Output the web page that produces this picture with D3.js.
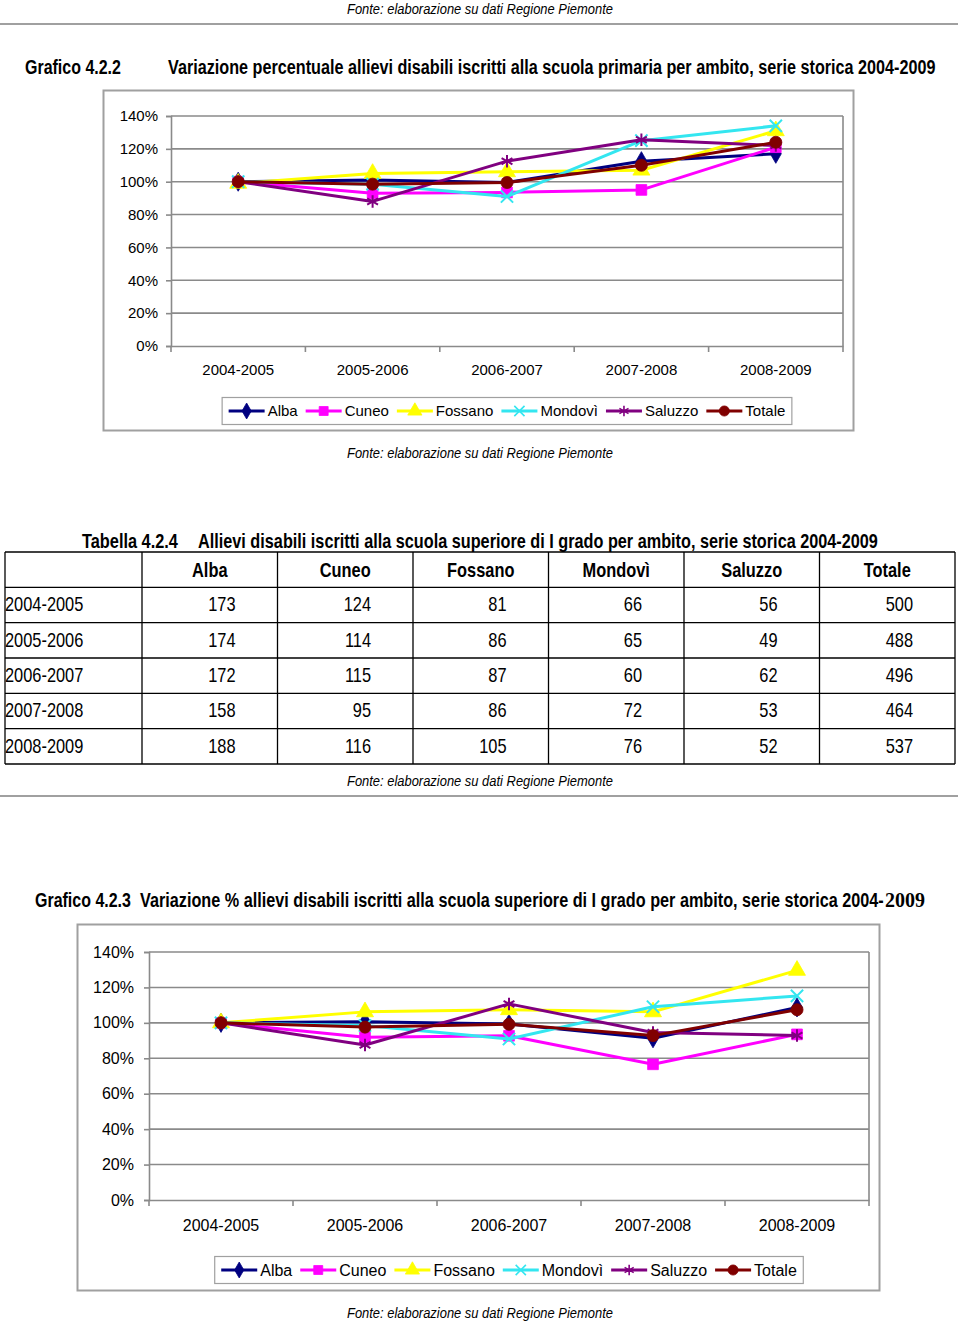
<!DOCTYPE html>
<html><head><meta charset="utf-8">
<script src="https://cdn.jsdelivr.net/npm/d3@7/dist/d3.min.js"></script>
<style>
body{margin:0;background:#fff;}
svg{display:block;}
</style></head>
<body>
<svg id="page" width="960" height="1323"></svg>
<script>
// ---------- DATA ----------
const categories = ["2004-2005","2005-2006","2006-2007","2007-2008","2008-2009"];
const seriesNames = ["Alba","Cuneo","Fossano","Mondovì","Saluzzo","Totale"];
const yTicks = [0,20,40,60,80,100,120,140];

// Grafico 4.2.2 - scuola primaria (% values)
const primAlba    = [100, 101, 99.5, 112.5, 117];
const primCuneo   = [100, 93, 93.5, 95, 121];
const primFossano = [99, 105, 106, 107, 131];
const primMondovi = [100, 98.5, 91, 125, 134];
const primSaluzzo = [100, 88, 112.5, 125.5, 122];
const primTotale  = [100, 98.5, 99.5, 110, 124];

// Tabella 4.2.4
const tableRowLabels = ["2004-2005","2005-2006","2006-2007","2007-2008","2008-2009"];
const tabAlba    = [173, 174, 172, 158, 188];
const tabCuneo   = [124, 114, 115, 95, 116];
const tabFossano = [81, 86, 87, 86, 105];
const tabMondovi = [66, 65, 60, 72, 76];
const tabSaluzzo = [56, 49, 62, 53, 52];
const tabTotale  = [500, 488, 496, 464, 537];

// Grafico 4.2.3 - scuola superiore di I grado (% values)
const secAlba    = [100, 100.6, 99.4, 91.3, 108.7];
const secCuneo   = [100, 91.9, 92.7, 76.6, 93.5];
const secFossano = [100, 106.2, 107.4, 106.2, 129.6];
const secMondovi = [100, 98.5, 90.9, 109.1, 115.2];
const secSaluzzo = [100, 87.5, 110.7, 94.6, 92.9];
const secTotale  = [100, 97.6, 99.2, 92.8, 107.4];

// ---------- STYLE ----------
const colors = ["#000080","#FF00FF","#FFFF00","#33E6F0","#800080","#800000"];
const symbols = [d3.symbolDiamond, d3.symbolSquare, d3.symbolTriangle, d3.symbolX, d3.symbolAsterisk, d3.symbolCircle];
const symSizes = [105, 115, 125, 100, 110, 115];
const strokeSyms = [false,false,false,true,true,false];
const SANS = "'Liberation Sans',Arial,sans-serif";
const SERIF = "'Liberation Serif','Times New Roman',serif";
const GRID = "#8a8a8a";

const svg = d3.select("#page");

// narrow text: Liberation Sans compressed horizontally (fit to a width, or fixed factor)
function ntext(parent, x, y, str, o){
  o = o || {};
  const t = parent.append("text")
    .attr("font-family", o.family || SANS)
    .attr("font-size", o.size || 20)
    .attr("font-weight", o.weight || "normal")
    .attr("font-style", o.style || "normal")
    .attr("text-anchor", o.anchor || "start")
    .attr("fill","#000")
    .text(str);
  const w = t.node().getComputedTextLength();
  const s = o.fit ? o.fit / w : (o.sx || 0.82);
  t.attr("transform", `translate(${x},${y}) scale(${s},1)`);
  return t;
}

function fonte(y){
  ntext(svg, 347, y, "Fonte: elaborazione su dati Regione Piemonte", {size:15, style:"italic", fit:266});
}
function hr(y){
  svg.append("line").attr("x1",0).attr("x2",958).attr("y1",y).attr("y2",y)
    .attr("stroke","#a0a0a0").attr("stroke-width",2);
}

function drawChart(cfg){
  const g = svg.append("g");
  g.append("rect").attr("x",cfg.box[0]+0.5).attr("y",cfg.box[1]+0.5)
    .attr("width",cfg.box[2]-cfg.box[0]).attr("height",cfg.box[3]-cfg.box[1])
    .attr("fill","#fff").attr("stroke","#a0a0a0").attr("stroke-width",2);
  const x = d3.scaleBand().domain(categories).range([cfg.plot[0],cfg.plot[2]]).padding(0);
  const y = d3.scaleLinear().domain([0,140]).range([cfg.plot[3],cfg.plot[1]]);
  const cx = c => x(c) + x.bandwidth()/2;

  g.append("g").selectAll("line").data(yTicks.filter(t=>t>0)).join("line")
    .attr("x1",cfg.plot[0]).attr("x2",cfg.plot[2])
    .attr("y1",d=>y(d)).attr("y2",d=>y(d))
    .attr("stroke",GRID).attr("stroke-width",1.6);
  g.append("line").attr("x1",cfg.plot[2]).attr("x2",cfg.plot[2])
    .attr("y1",cfg.plot[1]).attr("y2",cfg.plot[3]).attr("stroke",GRID).attr("stroke-width",1.6);

  const yAxis = d3.axisLeft(y).tickValues(yTicks).tickFormat(d=>d+"%").tickSize(5).tickPadding(cfg.yPad);
  const ya = g.append("g").attr("transform",`translate(${cfg.plot[0]},0)`).call(yAxis);
  ya.select(".domain").attr("stroke",GRID).attr("stroke-width",1.6);
  ya.selectAll(".tick line").attr("stroke",GRID).attr("stroke-width",1.6);
  ya.selectAll("text").attr("font-family",SANS).attr("font-size",cfg.fs).attr("fill","#000");

  const xAxis = d3.axisBottom(x).tickSize(0).tickPadding(cfg.xPad);
  const xa = g.append("g").attr("transform",`translate(0,${cfg.plot[3]})`).call(xAxis);
  xa.select(".domain").attr("stroke",GRID).attr("stroke-width",1.6);
  xa.selectAll("text").attr("font-family",SANS).attr("font-size",cfg.fs).attr("fill","#000");
  const bounds = categories.map(c=>x(c)).concat([cfg.plot[2]]);
  g.append("g").selectAll("line").data(bounds).join("line")
    .attr("x1",d=>d).attr("x2",d=>d).attr("y1",cfg.plot[3]).attr("y2",cfg.plot[3]+6)
    .attr("stroke",GRID).attr("stroke-width",1.6);

  const line = d3.line().x((d,i)=>cx(categories[i])).y(d=>y(d));
  cfg.series.forEach((vals,k)=>{
    g.append("path").datum(vals).attr("d",line).attr("fill","none")
      .attr("stroke",colors[k]).attr("stroke-width",3).attr("stroke-linejoin","round");
    const sym = d3.symbol().type(symbols[k]).size(symSizes[k]);
    g.append("g").selectAll("path").data(vals).join("path")
      .attr("transform",(d,i)=>`translate(${cx(categories[i])},${y(d)})`)
      .attr("d",sym)
      .attr("fill",strokeSyms[k]?"none":colors[k])
      .attr("stroke",colors[k]).attr("stroke-width",strokeSyms[k]?2:0.8);
  });

  const lg = g.append("g");
  let cur = 0;
  seriesNames.forEach((n,k)=>{
    const it = lg.append("g").attr("transform",`translate(${cur},0)`);
    it.append("line").attr("x1",0).attr("x2",36).attr("y1",0).attr("y2",0)
      .attr("stroke",colors[k]).attr("stroke-width",3);
    it.append("path").attr("transform","translate(18,0)")
      .attr("d",d3.symbol().type(symbols[k]).size(symSizes[k]*0.7))
      .attr("fill",strokeSyms[k]?"none":colors[k]).attr("stroke",colors[k]).attr("stroke-width",strokeSyms[k]?1.6:0.8);
    const t = it.append("text").attr("x",39).attr("y",cfg.fs*0.36)
      .attr("font-family",SANS).attr("font-size",cfg.fs).attr("fill","#000").text(n);
    cur += 39 + t.node().getComputedTextLength() + 8;
  });
  const totalW = cur - 8;
  const lcx = (cfg.plot[0]+cfg.plot[2])/2;
  const lx0 = lcx - totalW/2;
  lg.attr("transform",`translate(${lx0},${cfg.legY})`);
  g.insert("rect", () => lg.node())
    .attr("x",lx0-6.5).attr("y",cfg.legY-13.5).attr("width",totalW+13).attr("height",27)
    .attr("fill","#fff").attr("stroke","#a0a0a0").attr("stroke-width",1.2);
}

// ---------- PAGE ----------
fonte(14);
hr(24);

ntext(svg, 25, 74, "Grafico 4.2.2", {weight:"bold", fit:96});
ntext(svg, 168, 74, "Variazione percentuale allievi disabili iscritti alla scuola primaria per ambito, serie storica 2004-2009", {weight:"bold", fit:768});

drawChart({box:[103,90,853,430], plot:[171,116,843,346], fs:15, yPad:8, xPad:18, legY:411,
  series:[primAlba,primCuneo,primFossano,primMondovi,primSaluzzo,primTotale]});

fonte(458);

// Table
ntext(svg, 82, 548, "Tabella 4.2.4", {weight:"bold", fit:96});
ntext(svg, 198, 548, "Allievi disabili  iscritti alla scuola superiore di I grado per ambito, serie storica 2004-2009", {weight:"bold", fit:680});

const tableCols = [tabAlba,tabCuneo,tabFossano,tabMondovi,tabSaluzzo,tabTotale];
const colX = d3.scaleLinear().domain([0,6]).range([142,955]);
const rowY = d3.scaleLinear().domain([0,6]).range([552,764]);
const tg = svg.append("g");
d3.range(0,7).forEach(r=>{
  tg.append("line").attr("x1",5).attr("x2",955).attr("y1",rowY(r)).attr("y2",rowY(r))
    .attr("stroke","#000").attr("stroke-width",1.3);
});
[5].concat(d3.range(0,7).map(c=>colX(c))).forEach(xv=>{
  tg.append("line").attr("x1",xv).attr("x2",xv).attr("y1",rowY(0)).attr("y2",rowY(6))
    .attr("stroke","#000").attr("stroke-width",1.3);
});
seriesNames.forEach((n,c)=>{
  ntext(tg, (colX(c)+colX(c+1))/2, rowY(0)+25, n, {weight:"bold", anchor:"middle"});
});
tableRowLabels.forEach((lab,r)=>{
  ntext(tg, 5, rowY(r+1)+24, lab, {});
  tableCols.forEach((col,c)=>{
    ntext(tg, colX(c+1)-42, rowY(r+1)+24, String(col[r]), {anchor:"end"});
  });
});

fonte(786);
hr(796);

ntext(svg, 35, 907, "Grafico 4.2.3", {weight:"bold", fit:96});
ntext(svg, 140, 907, "Variazione %  allievi disabili iscritti alla scuola superiore di I grado per ambito, serie storica 2004-", {weight:"bold", fit:744});
ntext(svg, 885, 907, "2009", {family:SERIF, weight:"bold", fit:40});

drawChart({box:[77,924,879,1290], plot:[149,952,869,1200], fs:16, yPad:10, xPad:20, legY:1270,
  series:[secAlba,secCuneo,secFossano,secMondovi,secSaluzzo,secTotale]});

fonte(1318);
</script>
</body></html>
